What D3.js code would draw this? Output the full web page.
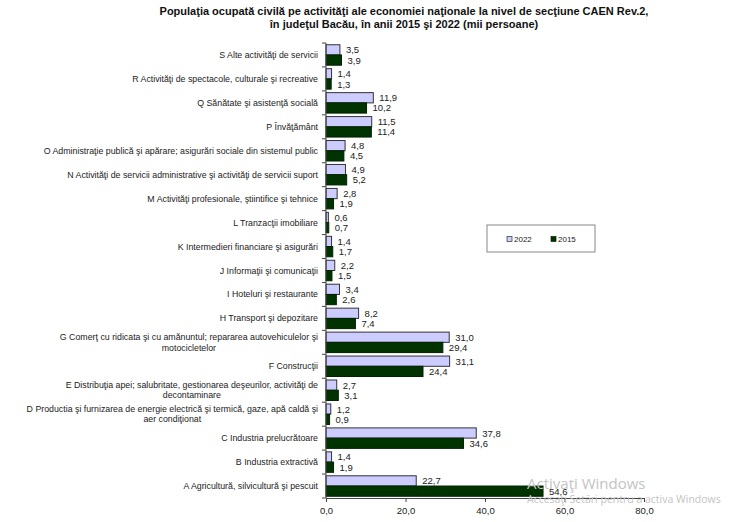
<!DOCTYPE html>
<html>
<head>
<meta charset="utf-8">
<script src="https://cdn.jsdelivr.net/npm/d3@7"></script>
<style>
  body { margin: 0; background: #fff; }
  svg { display: block; font-family: "Liberation Sans", Arial, sans-serif; }
</style>
</head>
<body>
<div id="chart"></div>
<script>
// categories, top to bottom as drawn
const categories = [
    "S Alte activităţi de servicii",
    "R Activităţi de spectacole, culturale şi recreative",
    "Q Sănătate şi asistenţă socială",
    "P Învăţământ",
    "O Administraţie publică şi apărare; asigurări sociale din sistemul public",
    "N Activităţi de servicii administrative şi activităţi de servicii suport",
    "M Activităţi profesionale, ştiintifice şi tehnice",
    "L Tranzacţii imobiliare",
    "K Intermedieri financiare şi asigurări",
    "J Informaţii şi comunicaţii",
    "I Hoteluri şi restaurante",
    "H Transport şi depozitare",
    "G Comerţ cu ridicata şi cu amănuntul; repararea autovehiculelor şi|motocicletelor",
    "F Construcţii",
    "E Distribuţia apei; salubritate, gestionarea deşeurilor, activităţi de|decontaminare",
    "D Productia şi furnizarea de energie electrică şi termică, gaze, apă caldă şi|aer condiţionat",
    "C Industria prelucrătoare",
    "B Industria extractivă",
    "A Agricultură, silvicultură şi pescuit"
];
const values2022 = [3.5, 1.4, 11.9, 11.5, 4.8, 4.9, 2.8, 0.6, 1.4, 2.2, 3.4, 8.2, 31.0, 31.1, 2.7, 1.2, 37.8, 1.4, 22.7];
const values2015 = [3.9, 1.3, 10.2, 11.4, 4.5, 5.2, 1.9, 0.7, 1.7, 1.5, 2.6, 7.4, 29.4, 24.4, 3.1, 0.9, 34.6, 1.9, 54.6];
const xTicks = [0, 20, 40, 60, 80];

const seriesConfig = [
    { key: "2022", values: values2022, fill: "#ccccff", stroke: "#333" },
    { key: "2015", values: values2015, fill: "#003300", stroke: "#002200" }
];

const width = 731, height = 522;
const fmt = v => v.toFixed(1).replace(".", ",");

const svg = d3.select("#chart")
    .append("svg")
    .attr("width", width)
    .attr("height", height);

// Title
svg.append("text")
    .attr("x", 404)
    .attr("y", 15)
    .attr("text-anchor", "middle")
    .attr("font-size", "11px")
    .attr("font-weight", "bold")
    .attr("fill", "#111")
    .text("Populaţia ocupată civilă pe activităţi ale economiei naţionale la nivel de secţiune CAEN Rev.2,");
svg.append("text")
    .attr("x", 404)
    .attr("y", 28)
    .attr("text-anchor", "middle")
    .attr("font-size", "11px")
    .attr("font-weight", "bold")
    .attr("fill", "#111")
    .text("în judeţul Bacău, în anii 2015 şi 2022 (mii persoane)");

// Scales
const x = d3.scaleLinear()
    .domain([0, 80])
    .range([326, 644]);

const y = d3.scaleBand()
    .domain(categories)
    .range([43, 498]);

const inner = d3.scaleBand()
    .domain(seriesConfig.map(s => s.key))
    .range([0, y.bandwidth()])
    .paddingOuter(0.17)
    .paddingInner(0);

// Bars
seriesConfig.forEach(s => {
    svg.append("g")
        .selectAll("rect")
        .data(categories)
        .enter()
        .append("rect")
        .attr("x", x(0))
        .attr("y", (d, i) => y(d) + inner(s.key))
        .attr("width", (d, i) => x(s.values[i]) - x(0))
        .attr("height", inner.bandwidth())
        .attr("fill", s.fill)
        .attr("stroke", s.stroke)
        .attr("stroke-width", 1);

    svg.append("g")
        .selectAll("text")
        .data(categories)
        .enter()
        .append("text")
        .attr("x", (d, i) => x(s.values[i]) + 6)
        .attr("y", (d, i) => y(d) + inner(s.key) + inner.bandwidth() / 2 + 3.5)
        .attr("font-size", "9.5px")
        .attr("fill", "#222")
        .text((d, i) => fmt(s.values[i]));
});

// Y axis (line + ticks at band boundaries)
const yAxis = svg.append("g").attr("stroke", "#444");
yAxis.append("line")
    .attr("x1", x(0)).attr("x2", x(0))
    .attr("y1", y.range()[0]).attr("y2", y.range()[1]);
yAxis.selectAll("line.tick")
    .data(categories.concat([null]))
    .enter()
    .append("line")
    .attr("class", "tick")
    .attr("x1", x(0) - 4).attr("x2", x(0))
    .attr("y1", (d, i) => y.range()[0] + i * y.step())
    .attr("y2", (d, i) => y.range()[0] + i * y.step());

// Category labels (right aligned block, wrapped lines centered)
const labels = svg.append("g")
    .attr("font-size", "8.8px")
    .attr("fill", "#222");
categories.forEach(c => {
    const lines = c.split("|");
    const cy = y(c) + y.bandwidth() / 2;
    const g = labels.append("g");
    const texts = lines.map((line, j) => g.append("text")
        .attr("y", cy + 3 + (j - (lines.length - 1) / 2) * 10.5)
        .text(line));
    const widths = texts.map(t => t.node().getComputedTextLength());
    const maxW = d3.max(widths);
    const right = 318;
    texts.forEach(t => {
        t.attr("x", right - maxW / 2).attr("text-anchor", "middle");
    });
});

// X axis
const xAxis = svg.append("g")
    .attr("transform", `translate(0, ${y.range()[1]})`)
    .call(d3.axisBottom(x).tickValues(xTicks).tickSize(4).tickSizeOuter(0).tickFormat(fmt));
xAxis.select(".domain").attr("stroke", "#444");
xAxis.selectAll(".tick line").attr("stroke", "#444");
xAxis.selectAll(".tick text")
    .attr("font-family", "Liberation Sans, Arial, sans-serif")
    .attr("font-size", "9.5px")
    .attr("fill", "#222")
    .attr("dy", "0.9em");

// Legend
const legend = svg.append("g").attr("transform", "translate(487, 225)");
legend.append("rect")
    .attr("width", 108)
    .attr("height", 27)
    .attr("fill", "#fff")
    .attr("stroke", "#888")
    .attr("stroke-width", 1);
seriesConfig.forEach((s, i) => {
    const item = legend.append("g").attr("transform", `translate(${20 + i * 44}, 14)`);
    item.append("rect")
        .attr("x", 0).attr("y", -2.5)
        .attr("width", 5).attr("height", 5)
        .attr("fill", s.fill)
        .attr("stroke", s.stroke)
        .attr("stroke-width", 0.7);
    item.append("text")
        .attr("x", 7).attr("y", 3)
        .attr("font-size", "8px")
        .attr("fill", "#222")
        .text(s.key);
});

// Windows activation watermark seen on the screenshot
svg.append("text")
    .attr("x", 527).attr("y", 489)
    .attr("font-family", "Open Sans, sans-serif")
    .attr("font-size", "15px")
    .attr("fill", "#c4c4c4")
    .text("Activaţi Windows");
svg.append("text")
    .attr("x", 527).attr("y", 503)
    .attr("font-family", "Open Sans, sans-serif")
    .attr("font-size", "10.5px")
    .attr("fill", "#c4c4c4")
    .text("Accesaţi Setări pentru a activa Windows");
</script>
</body>
</html>
